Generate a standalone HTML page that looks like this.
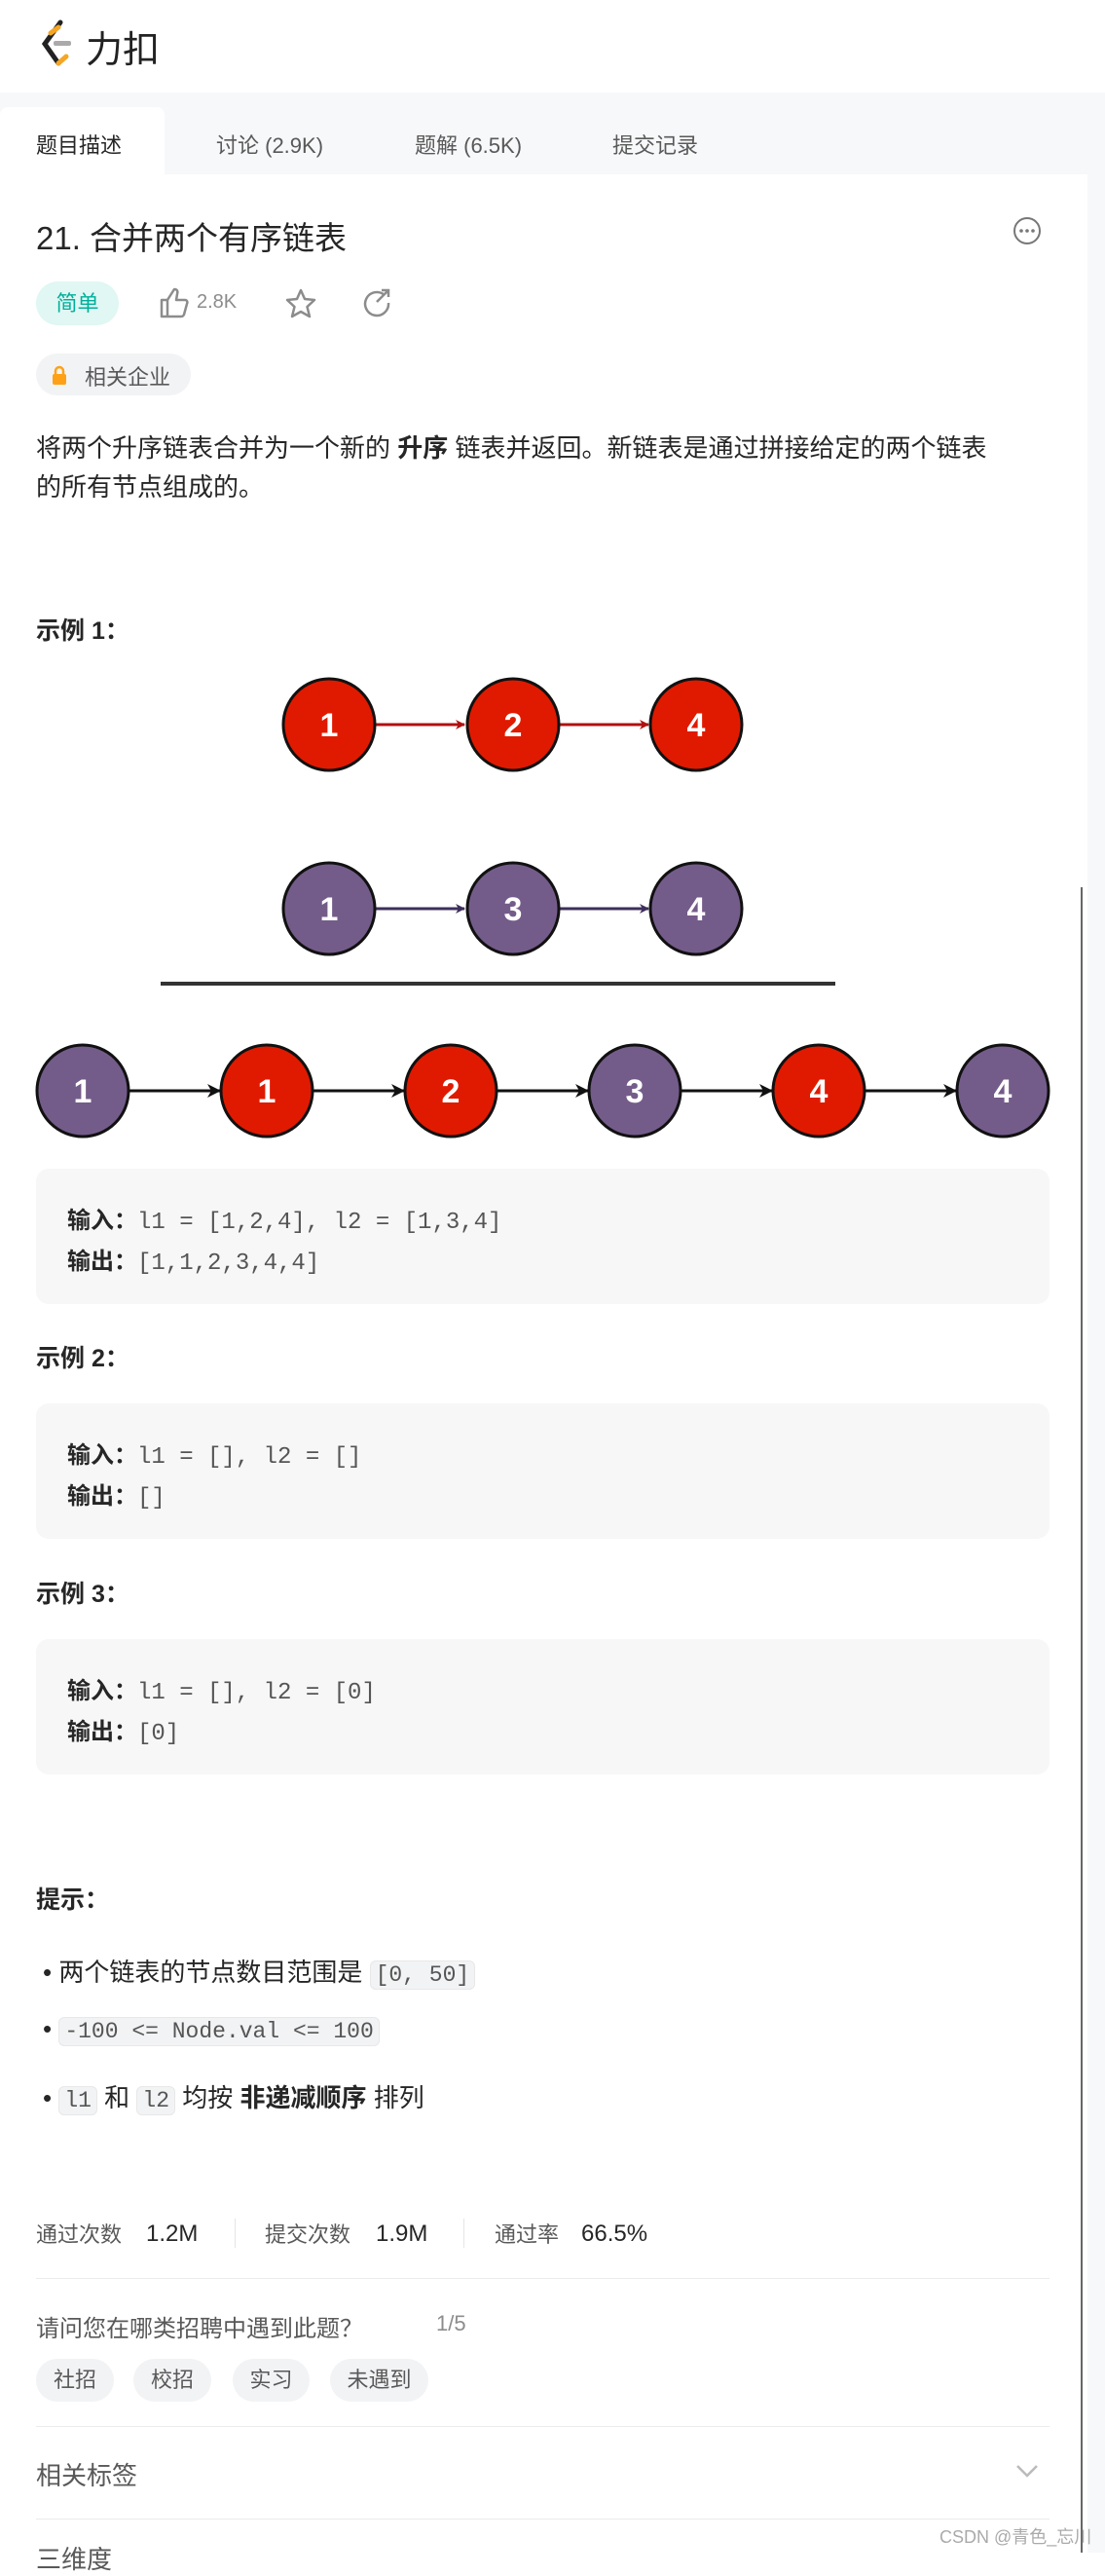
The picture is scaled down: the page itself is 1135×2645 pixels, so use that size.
<!DOCTYPE html>
<html><head><meta charset="utf-8"><style>
*{margin:0;padding:0;box-sizing:border-box}
body{width:1135px;height:2621px;position:relative;background:#fff;font-family:"Liberation Sans","Noto Sans CJK SC",sans-serif;color:#262626;overflow:hidden}
.a{position:absolute;white-space:nowrap}
.mono{font-family:"Liberation Mono","Noto Sans CJK SC",monospace}
.box{position:absolute;left:37px;width:1041px;height:139px;background:#f7f7f8;border-radius:13px}
.code{background:#f2f3f4;border:1px solid #e8e8e8;border-radius:6px;padding:1px 5px;font-size:23px;color:#555}
.pill{position:absolute;top:2422px;height:44px;background:#f2f3f5;border-radius:22px;font-size:22px;color:#595959;line-height:44px;text-align:center}
.hr{position:absolute;left:37px;width:1041px;height:1px;background:#ebebeb}
</style></head><body>
<svg class="a" style="left:40px;top:20px" width="40" height="50" viewBox="0 0 40 50"><path d="M22 3 L6 25 L20 45" fill="none" stroke="#222" stroke-width="5" stroke-linecap="round"/><path d="M20 45 L28 38" stroke="#f5a623" stroke-width="5" stroke-linecap="round"/><path d="M12 14 L20 8" stroke="#f5a623" stroke-width="5" stroke-linecap="round"/><rect x="15" y="22" width="18" height="5" rx="2" fill="#aaa"/></svg>
<div class="a" style="left:88px;top:20px;font-size:38px;color:#222">力扣</div>
<div class="a" style="left:0;top:95px;width:1135px;height:84px;background:#f7f8fa"></div>
<div class="a" style="left:0;top:110px;width:169px;height:69px;background:#fff;border-radius:8px 8px 0 0"></div>
<div class="a" style="left:37px;top:132px;font-size:22px;color:#262626">题目描述</div>
<div class="a" style="left:222px;top:132px;font-size:22px;color:#595959">讨论 (2.9K)</div>
<div class="a" style="left:426px;top:132px;font-size:22px;color:#595959">题解 (6.5K)</div>
<div class="a" style="left:629px;top:132px;font-size:22px;color:#595959">提交记录</div>
<div class="a" style="left:1117px;top:179px;width:18px;height:2442px;background:#f7f8fa"></div>
<div class="a" style="left:1110px;top:911px;width:2px;height:1710px;background:#666"></div>
<div class="a" style="left:37px;top:218px;font-size:33px;color:#262626">21. 合并两个有序链表</div>
<svg class="a" style="left:1040px;top:222px" width="30" height="30"><circle cx="15" cy="15" r="13" fill="none" stroke="#777" stroke-width="2"/><circle cx="9" cy="15" r="1.8" fill="#777"/><circle cx="15" cy="15" r="1.8" fill="#777"/><circle cx="21" cy="15" r="1.8" fill="#777"/></svg>
<div class="a" style="left:37px;top:289px;width:85px;height:45px;border-radius:23px;background:#e0f7f3;color:#00af9b;font-size:22px;text-align:center;line-height:45px">简单</div>
<svg class="a" style="left:163px;top:294px" width="32" height="34"><path d="M3 14 h6 v17 h-6z M9 14 l7 -11 c3 0 4 2 3 5 l-1 6 h9 c2 0 3 2 2 4 l-3 11 c-1 2 -2 2 -4 2 h-13" fill="none" stroke="#8c8c8c" stroke-width="2.5" stroke-linejoin="round"/></svg>
<div class="a" style="left:202px;top:299px;font-size:20px;color:#8c8c8c">2.8K</div>
<svg class="a" style="left:293px;top:295px" width="32" height="32"><path d="M16 3 l4 9 10 1 -7.5 7 2.5 10 -9 -5 -9 5 2.5 -10 -7.5 -7 10 -1z" fill="none" stroke="#8c8c8c" stroke-width="2.5" stroke-linejoin="round"/></svg>
<svg class="a" style="left:371px;top:295px" width="32" height="32"><path d="M24 8 A12 12 0 1 0 28 16" fill="none" stroke="#8c8c8c" stroke-width="2.5"/><path d="M16 15 L28 3 M21 3 h7 v7" fill="none" stroke="#8c8c8c" stroke-width="2.5"/></svg>
<div class="a" style="left:37px;top:363px;width:159px;height:43px;border-radius:22px;background:#f2f3f5"></div>
<svg class="a" style="left:53px;top:374px" width="16" height="22"><path d="M4 10 V7 a4 4 0 0 1 8 0 V10" fill="none" stroke="#ffa116" stroke-width="2.5"/><rect x="1" y="10" width="14" height="11" rx="2" fill="#ffa116"/></svg>
<div class="a" style="left:87px;top:370px;font-size:22px;color:#595959">相关企业</div>
<div class="a" style="left:37px;top:440px;font-size:26px;line-height:40px;color:#262626">将两个升序链表合并为一个新的 <b>升序</b> 链表并返回。新链表是通过拼接给定的两个链表<br>的所有节点组成的。</div>
<div class="a" style="left:37px;top:628px;font-size:25px;font-weight:bold">示例 1：</div>
<svg class="a" style="left:0;top:680px" width="1117" height="510">
<defs>
<marker id="mr" markerWidth="10" markerHeight="10" refX="9" refY="5" orient="auto" markerUnits="userSpaceOnUse"><path d="M0 0 L10 5 L0 10 L3 5z" fill="#b01010"/></marker>
<marker id="mp" markerWidth="10" markerHeight="10" refX="9" refY="5" orient="auto" markerUnits="userSpaceOnUse"><path d="M0 0 L10 5 L0 10 L3 5z" fill="#3e2f5b"/></marker>
<marker id="mb" markerWidth="14" markerHeight="14" refX="13" refY="7" orient="auto" markerUnits="userSpaceOnUse"><path d="M0 0 L14 7 L0 14 L4 7z" fill="#111"/></marker>
</defs>
<g font-family="Liberation Sans" font-weight="bold" font-size="34" fill="#fff" text-anchor="middle">
<line x1="386" y1="64" x2="477" y2="64" stroke="#b01010" stroke-width="3" marker-end="url(#mr)"/>
<line x1="575" y1="64" x2="666" y2="64" stroke="#b01010" stroke-width="3" marker-end="url(#mr)"/>
<circle cx="338" cy="64" r="47" fill="#e01a00" stroke="#111" stroke-width="3"/><text x="338" y="76">1</text>
<circle cx="527" cy="64" r="47" fill="#e01a00" stroke="#111" stroke-width="3"/><text x="527" y="76">2</text>
<circle cx="715" cy="64" r="47" fill="#e01a00" stroke="#111" stroke-width="3"/><text x="715" y="76">4</text>
<line x1="386" y1="253" x2="477" y2="253" stroke="#3e2f5b" stroke-width="3" marker-end="url(#mp)"/>
<line x1="575" y1="253" x2="666" y2="253" stroke="#3e2f5b" stroke-width="3" marker-end="url(#mp)"/>
<circle cx="338" cy="253" r="47" fill="#745c8a" stroke="#111" stroke-width="3"/><text x="338" y="265">1</text>
<circle cx="527" cy="253" r="47" fill="#745c8a" stroke="#111" stroke-width="3"/><text x="527" y="265">3</text>
<circle cx="715" cy="253" r="47" fill="#745c8a" stroke="#111" stroke-width="3"/><text x="715" y="265">4</text>
<line x1="165" y1="330" x2="858" y2="330" stroke="#333" stroke-width="4"/>
<line x1="133" y1="440" x2="226" y2="440" stroke="#111" stroke-width="3" marker-end="url(#mb)"/>
<line x1="322" y1="440" x2="415" y2="440" stroke="#111" stroke-width="3" marker-end="url(#mb)"/>
<line x1="511" y1="440" x2="604" y2="440" stroke="#111" stroke-width="3" marker-end="url(#mb)"/>
<line x1="700" y1="440" x2="793" y2="440" stroke="#111" stroke-width="3" marker-end="url(#mb)"/>
<line x1="889" y1="440" x2="982" y2="440" stroke="#111" stroke-width="3" marker-end="url(#mb)"/>
<circle cx="85" cy="440" r="47" fill="#745c8a" stroke="#111" stroke-width="3"/><text x="85" y="452">1</text>
<circle cx="274" cy="440" r="47" fill="#e01a00" stroke="#111" stroke-width="3"/><text x="274" y="452">1</text>
<circle cx="463" cy="440" r="47" fill="#e01a00" stroke="#111" stroke-width="3"/><text x="463" y="452">2</text>
<circle cx="652" cy="440" r="47" fill="#745c8a" stroke="#111" stroke-width="3"/><text x="652" y="452">3</text>
<circle cx="841" cy="440" r="47" fill="#e01a00" stroke="#111" stroke-width="3"/><text x="841" y="452">4</text>
<circle cx="1030" cy="440" r="47" fill="#745c8a" stroke="#111" stroke-width="3"/><text x="1030" y="452">4</text>
</g></svg>
<div class="box" style="top:1200px"></div>
<div class="a mono" style="left:69px;top:1234px;font-size:24px;color:#555;line-height:40px"><b style="font-family:'Liberation Sans','Noto Sans CJK SC',sans-serif;color:#262626">输入：</b>l1 = [1,2,4], l2 = [1,3,4]<br><b style="font-family:'Liberation Sans','Noto Sans CJK SC',sans-serif;color:#262626">输出：</b>[1,1,2,3,4,4]</div>
<div class="a" style="left:37px;top:1375px;font-size:25px;font-weight:bold">示例 2：</div>
<div class="box" style="top:1441px"></div>
<div class="a mono" style="left:69px;top:1475px;font-size:24px;color:#555;line-height:40px"><b style="font-family:'Liberation Sans','Noto Sans CJK SC',sans-serif;color:#262626">输入：</b>l1 = [], l2 = []<br><b style="font-family:'Liberation Sans','Noto Sans CJK SC',sans-serif;color:#262626">输出：</b>[]</div>
<div class="a" style="left:37px;top:1617px;font-size:25px;font-weight:bold">示例 3：</div>
<div class="box" style="top:1683px"></div>
<div class="a mono" style="left:69px;top:1717px;font-size:24px;color:#555;line-height:40px"><b style="font-family:'Liberation Sans','Noto Sans CJK SC',sans-serif;color:#262626">输入：</b>l1 = [], l2 = [0]<br><b style="font-family:'Liberation Sans','Noto Sans CJK SC',sans-serif;color:#262626">输出：</b>[0]</div>
<div class="a" style="left:37px;top:1931px;font-size:25px;font-weight:bold">提示：</div>
<div class="a" style="left:44px;top:2005px;font-size:26px">•&nbsp;两个链表的节点数目范围是 <span class="code mono">[0, 50]</span></div>
<div class="a" style="left:44px;top:2068px;font-size:26px">•&nbsp;<span class="code mono">-100 &lt;= Node.val &lt;= 100</span></div>
<div class="a" style="left:44px;top:2134px;font-size:26px">•&nbsp;<span class="code mono">l1</span> 和 <span class="code mono">l2</span> 均按 <b>非递减顺序</b> 排列</div>
<div class="a" style="left:37px;top:2280px;font-size:22px;color:#595959;line-height:30px">通过次数</div>
<div class="a" style="left:150px;top:2279px;font-size:24px;color:#262626;line-height:30px">1.2M</div>
<div class="a" style="left:241px;top:2278px;width:1px;height:30px;background:#e5e5e5"></div>
<div class="a" style="left:272px;top:2280px;font-size:22px;color:#595959;line-height:30px">提交次数</div>
<div class="a" style="left:386px;top:2279px;font-size:24px;color:#262626;line-height:30px">1.9M</div>
<div class="a" style="left:476px;top:2278px;width:1px;height:30px;background:#e5e5e5"></div>
<div class="a" style="left:508px;top:2280px;font-size:22px;color:#595959;line-height:30px">通过率</div>
<div class="a" style="left:597px;top:2279px;font-size:24px;color:#262626;line-height:30px">66.5%</div>
<div class="hr" style="top:2339px"></div>
<div class="a" style="left:37px;top:2371px;font-size:24px;color:#595959">请问您在哪类招聘中遇到此题？</div>
<div class="a" style="left:448px;top:2373px;font-size:22px;color:#8c8c8c">1/5</div>
<div class="pill" style="left:37px;width:80px">社招</div>
<div class="pill" style="left:137px;width:80px">校招</div>
<div class="pill" style="left:239px;width:79px">实习</div>
<div class="pill" style="left:339px;width:101px">未遇到</div>
<div class="hr" style="top:2491px"></div>
<div class="a" style="left:37px;top:2522px;font-size:26px;color:#595959">相关标签</div>
<svg class="a" style="left:1043px;top:2529px" width="24" height="16"><path d="M2 3 L12 13 L22 3" fill="none" stroke="#bbb" stroke-width="2.5"/></svg>
<div class="hr" style="top:2586px"></div>
<div class="a" style="left:37px;top:2608px;font-size:26px;color:#595959">三维度</div>
<div class="a" style="left:965px;top:2591px;font-size:18px;color:#aaa">CSDN @青色_忘川</div>
</body></html>
